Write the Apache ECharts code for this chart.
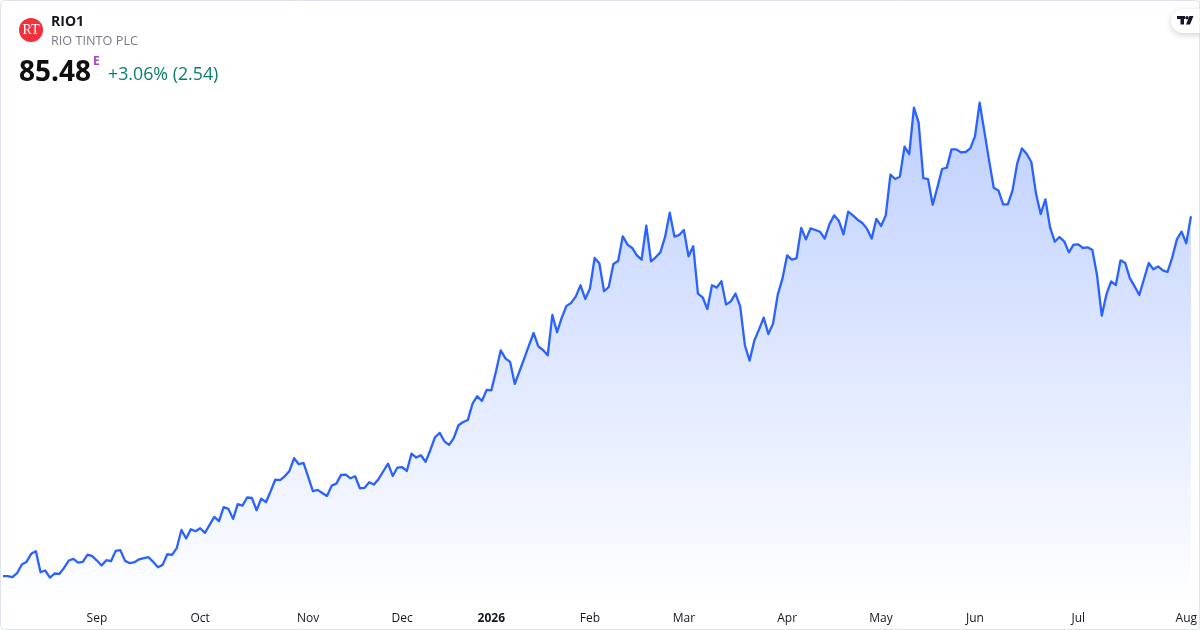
<!DOCTYPE html>
<html>
<head>
<meta charset="utf-8">
<title>RIO1</title>
<script src="https://cdn.jsdelivr.net/npm/echarts@6/dist/echarts.min.js"></script>
<style>
html,body{margin:0;padding:0;background:#fff;}
#chart{width:1200px;height:630px;}
</style>
</head>
<body>
<div id="chart"></div>
<script>
const prices = [
51.62,51.62,51.52,51.90,52.71,52.96,53.72,53.97,51.99,52.15,
51.49,51.87,51.83,52.40,53.09,53.25,52.90,52.96,53.65,53.50,
53.09,52.62,53.12,53.03,54.00,54.06,53.06,52.84,52.93,53.21,
53.31,53.40,52.96,52.46,52.68,53.68,53.62,54.25,55.97,55.16,
56.04,55.85,56.13,55.69,56.44,57.20,56.79,58.11,57.95,57.01,
58.39,58.26,59.02,58.98,57.82,58.92,58.58,59.61,60.71,60.65,
61.02,61.52,62.72,62.15,62.28,60.96,59.61,59.74,59.45,59.17,
60.14,60.33,61.15,61.18,60.83,61.02,59.89,59.93,60.46,60.24,
60.77,61.49,62.21,61.05,61.84,61.87,61.52,63.15,62.78,63.00,
62.37,63.47,64.69,65.10,64.31,63.97,64.60,65.82,66.13,66.32,
67.86,68.55,68.11,69.14,69.11,70.90,72.87,72.12,71.78,69.71,
70.90,72.09,73.31,74.50,73.25,72.90,72.40,76.20,74.57,75.95,
77.05,77.33,77.95,78.99,77.70,78.68,81.56,81.06,78.43,78.83,
81.00,81.28,83.60,82.82,82.50,81.81,81.40,84.60,81.25,81.62,
82.09,83.54,85.82,83.57,83.72,84.19,81.72,82.66,78.21,77.86,
76.76,78.99,78.77,79.37,77.17,77.48,78.21,77.01,73.35,71.90,
73.78,74.82,75.95,74.41,75.38,78.11,79.62,81.81,81.40,81.53,
84.38,83.31,84.35,84.19,84.03,83.38,84.72,85.57,85.07,83.78,
85.92,85.57,85.16,84.85,84.32,83.38,85.23,84.57,85.57,89.40,
88.99,89.21,92.03,91.34,95.70,94.29,89.08,88.99,86.57,88.20,
89.93,90.06,91.78,91.78,91.50,91.53,91.87,93.00,96.17,93.47,
90.74,88.17,87.92,86.61,86.61,87.92,90.46,91.87,91.37,90.59,
87.61,85.70,87.08,84.41,83.09,83.53,83.13,82.09,82.81,82.84,
82.50,82.56,82.31,79.93,76.13,78.14,79.36,79.02,81.34,81.09,
79.64,78.89,78.08,79.58,81.09,80.49,80.77,80.40,80.24,81.59,
83.31,84.03,82.94,85.48
];
const sessions = prices.map((_, i) => String(i));
const tickIndexes = [20, 42, 65, 85, 104, 125, 145, 167, 187, 207, 229, 252];
const tickLabels = ['Sep', 'Oct', 'Nov', 'Dec', '2026', 'Feb', 'Mar', 'Apr', 'May', 'Jun', 'Jul', 'Aug'];
const boldTicks = ['2026'];

const FONT = '"Open Sans","Noto Sans",sans-serif';
const chart = echarts.init(document.getElementById('chart'), null, {renderer: 'canvas'});

chart.setOption({
  animation: false,
  backgroundColor: '#ffffff',
  grid: {left: 3, right: 8.5, top: 62, height: 542, containLabel: false},
  xAxis: {
    type: 'category',
    data: sessions,
    boundaryGap: false,
    axisLine: {show: false},
    axisTick: {show: false},
    splitLine: {show: false},
    axisLabel: {
      interval: (i) => tickIndexes.includes(i),
      hideOverlap: false,
      margin: 9,
      fontFamily: FONT,
      fontSize: 12,
      color: '#131722',
      formatter: (v) => {
        const k = tickIndexes.indexOf(Number(v));
        if (k < 0) return '';
        const t = tickLabels[k];
        return boldTicks.includes(t) ? '{b|' + t + '}' : t;
      },
      rich: {b: {fontWeight: 700, fontFamily: FONT, fontSize: 12, color: '#131722'}}
    }
  },
  yAxis: {type: 'value', min: 49, max: 100, show: false},
  series: [{
    type: 'line',
    data: prices,
    symbol: 'none',
    smooth: false,
    lineStyle: {color: '#2962ff', width: 2.3, join: 'round'},
    itemStyle: {color: '#2962ff'},
    areaStyle: {
      origin: 'start',
      opacity: 1,
      color: new echarts.graphic.LinearGradient(0, 0, 0, 1, [
        {offset: 0, color: 'rgba(41,98,255,0.3)'},
        {offset: 1, color: 'rgba(41,98,255,0)'}
      ])
    }
  }],
  graphic: [
    {type: 'rect', silent: true, z: 10, shape: {x: 0.5, y: 0.5, width: 1199, height: 629, r: 4},
      style: {fill: 'none', stroke: '#e0e3eb', lineWidth: 1}},
    {type: 'circle', z: 11, shape: {cx: 31, cy: 30, r: 12}, style: {fill: '#f2313f'}},
    {type: 'text', z: 12, style: {x: 31, y: 30.5, text: 'RT', align: 'center', verticalAlign: 'middle',
      font: '400 14px "Liberation Serif",serif', fill: '#ffffff'}},
    {type: 'text', z: 12, style: {x: 51, y: 22, text: 'RIO1', verticalAlign: 'middle',
      font: '700 14px ' + FONT, fill: '#131722'}},
    {type: 'text', z: 12, style: {x: 51, y: 41, text: 'RIO TINTO PLC', verticalAlign: 'middle',
      font: '400 12.7px ' + FONT, fill: '#787b86'}},
    {type: 'text', z: 12, style: {x: 19, y: 73, text: '85.48', verticalAlign: 'middle',
      font: '700 28px ' + FONT, fill: '#0f0f0f'}},
    {type: 'text', z: 12, style: {x: 93, y: 62, text: 'E', verticalAlign: 'middle',
      font: '700 12px ' + FONT, fill: '#ab47bc'}},
    {type: 'text', z: 12, style: {x: 108, y: 75, text: '+3.06% (2.54)', verticalAlign: 'middle',
      font: '400 17.8px ' + FONT, fill: '#067f6d'}},
    {type: 'rect', z: 11, shape: {x: 1171, y: 9, width: 44, height: 24, r: 12},
      style: {fill: '#ffffff', shadowBlur: 6, shadowColor: 'rgba(0,0,0,0.18)', shadowOffsetY: 2}},
    {type: 'rect', z: 12, shape: {x: 1177, y: 16, width: 8, height: 3}, style: {fill: '#131722'}},
    {type: 'rect', z: 12, shape: {x: 1180.5, y: 16, width: 3.5, height: 8.5}, style: {fill: '#131722'}},
    {type: 'circle', z: 12, shape: {cx: 1187, cy: 17.7, r: 1.7}, style: {fill: '#131722'}},
    {type: 'polygon', z: 12, shape: {points: [[1189.5, 16], [1193.5, 16], [1190, 24.5], [1186, 24.5]]}, style: {fill: '#131722'}},
    {type: 'rect', z: 13, shape: {x: 1199.5, y: 0, width: 1, height: 630}, style: {fill: '#e0e3eb'}}
  ]
});
</script>
</body>
</html>
